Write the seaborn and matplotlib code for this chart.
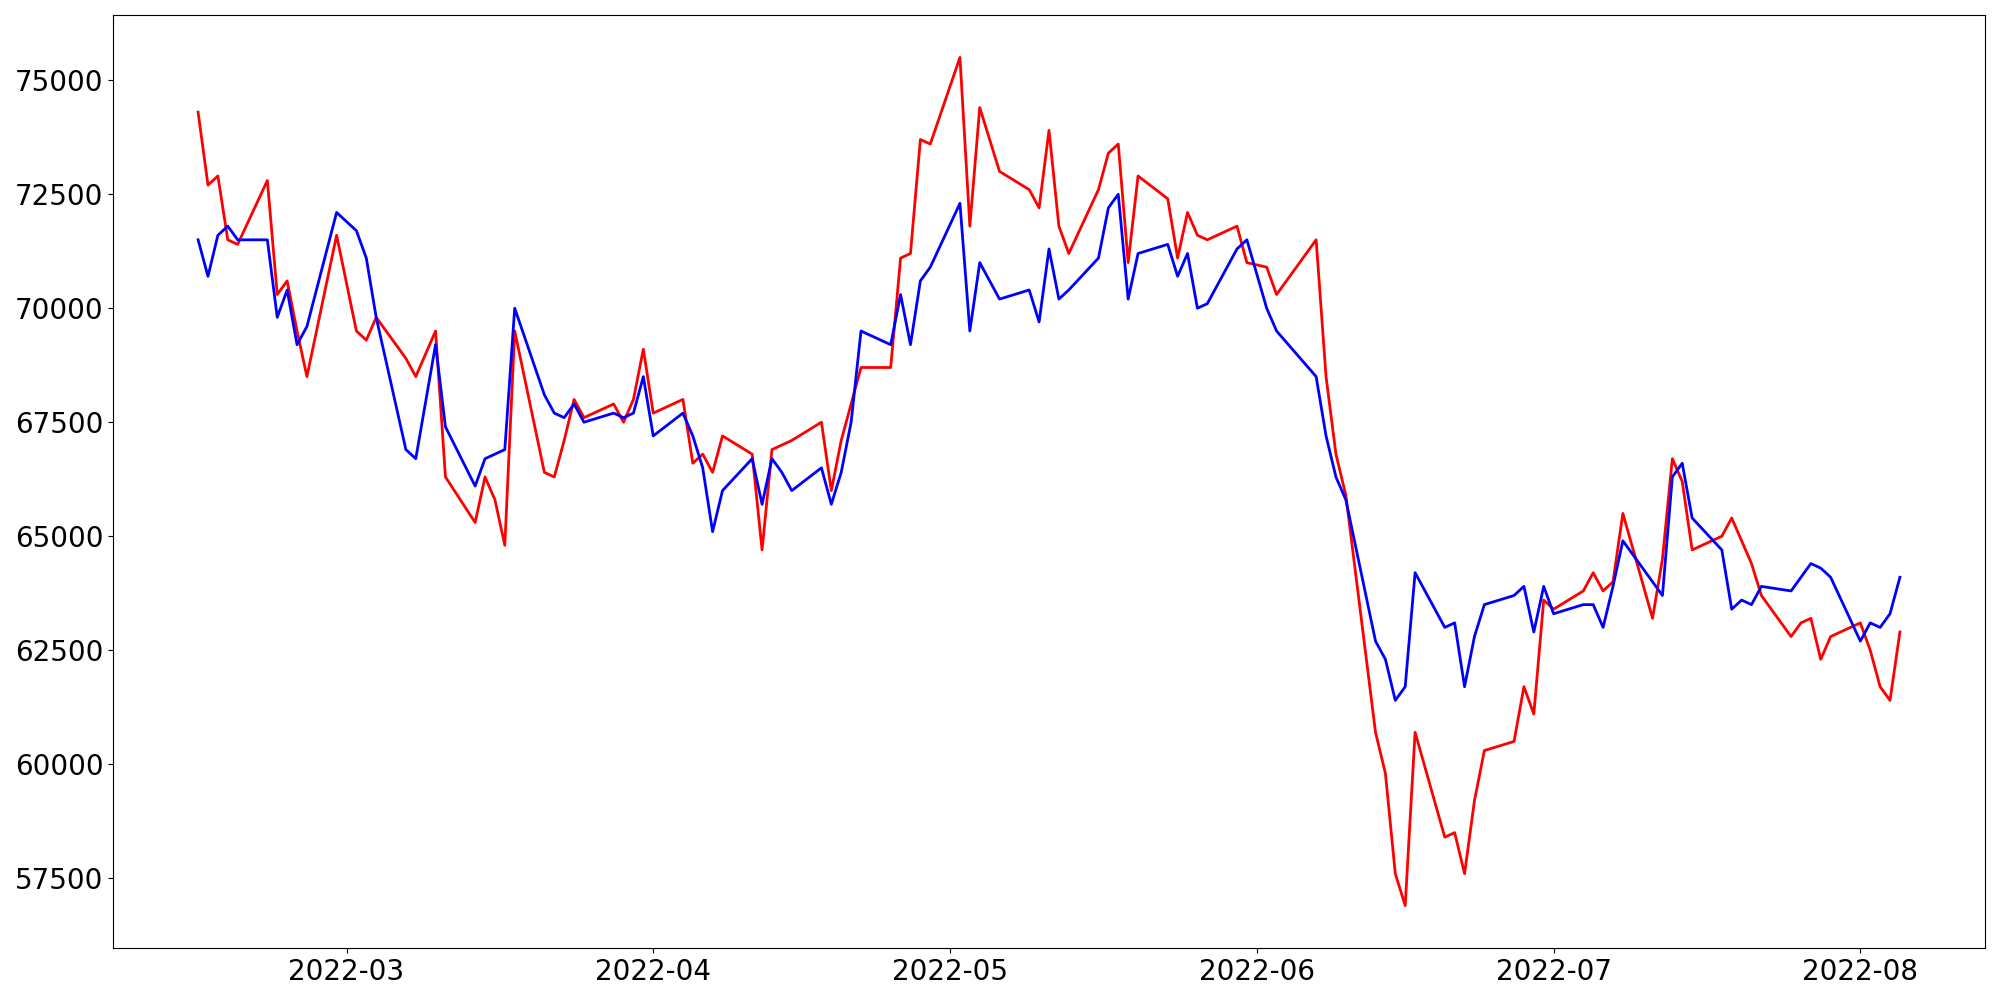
"""
Actual vs predicted closing price, Feb - Aug 2022.
"""

import matplotlib

matplotlib.use("Agg")
import matplotlib.dates as mdates
import matplotlib.pyplot as plt
import pandas as pd
import seaborn as sns
from matplotlib.ticker import MultipleLocator

START = "2022-02-14"
END = "2022-08-05"
HOLIDAYS = ["2022-03-01", "2022-03-09", "2022-05-05", "2022-06-01", "2022-06-06"]

actual = [
    # Feb
    74300, 72700, 72900, 71500, 71400, 72800, 70300, 70600, 69500, 68500, 71600,
    # Mar
    69500, 69300, 69800, 68900, 68500, 69500, 66300, 65300, 66300, 65800, 64800,
    69500, 66400, 66300, 67100, 68000, 67600, 67900, 67500, 68000, 69100,
    # Apr
    67700, 68000, 66600, 66800, 66400, 67200, 66800, 64700, 66900, 67000, 67100,
    67500, 66000, 67100, 67900, 68700, 68700, 71100, 71200, 73700, 73600,
    # May
    75500, 71800, 74400, 73000, 72600, 72200, 73900, 71800, 71200, 72600, 73400,
    73600, 71000, 72900, 72400, 71100, 72100, 71600, 71500, 71800, 71000,
    # Jun
    70900, 70300, 71500, 68500, 66800, 65900, 60700, 59800, 57600, 56900, 60700,
    58400, 58500, 57600, 59200, 60300, 60500, 61700, 61100, 63600,
    # Jul
    63400, 63800, 64200, 63800, 64000, 65500, 63200, 64500, 66700, 66200, 64700,
    65000, 65400, 64900, 64400, 63700, 62800, 63100, 63200, 62300, 62800,
    # Aug
    63100, 62500, 61700, 61400, 62900,
]

predicted = [
    # Feb
    71500, 70700, 71600, 71800, 71500, 71500, 69800, 70400, 69200, 69600, 72100,
    # Mar
    71700, 71100, 69800, 66900, 66700, 69200, 67400, 66100, 66700, 66800, 66900,
    70000, 68100, 67700, 67600, 67900, 67500, 67700, 67600, 67700, 68500,
    # Apr
    67200, 67700, 67200, 66500, 65100, 66000, 66700, 65700, 66700, 66400, 66000,
    66500, 65700, 66400, 67500, 69500, 69200, 70300, 69200, 70600, 70900,
    # May
    72300, 69500, 71000, 70200, 70400, 69700, 71300, 70200, 70400, 71100, 72200,
    72500, 70200, 71200, 71400, 70700, 71200, 70000, 70100, 71300, 71500,
    # Jun
    70000, 69500, 68500, 67200, 66300, 65800, 62700, 62300, 61400, 61700, 64200,
    63000, 63100, 61700, 62800, 63500, 63700, 63900, 62900, 63900,
    # Jul
    63300, 63500, 63500, 63000, 63900, 64900, 64000, 63700, 66300, 66600, 65400,
    64700, 63400, 63600, 63500, 63900, 63800, 64100, 64400, 64300, 64100,
    # Aug
    62700, 63100, 63000, 63300, 64100,
]


def main() -> None:
    dates = pd.bdate_range(START, END)
    dates = dates[~dates.isin(pd.to_datetime(HOLIDAYS))]

    df = pd.DataFrame({"date": dates, "actual": actual, "predicted": predicted})

    fig, ax = plt.subplots(figsize=(20, 10), dpi=100)
    sns.lineplot(data=df, x="date", y="actual", color="red", linewidth=2, ax=ax)
    sns.lineplot(data=df, x="date", y="predicted", color="blue", linewidth=2, ax=ax)

    ax.set_xlabel("")
    ax.set_ylabel("")
    ax.xaxis.set_major_locator(mdates.MonthLocator())
    ax.xaxis.set_major_formatter(mdates.DateFormatter("%Y-%m"))
    ax.yaxis.set_major_locator(MultipleLocator(2500))
    ax.tick_params(labelsize=20)

    fig.subplots_adjust(left=0.0565, right=0.9925, top=0.985, bottom=0.052)
    fig.savefig("out.png", dpi=100)
    plt.close(fig)


if __name__ == "__main__":
    main()
